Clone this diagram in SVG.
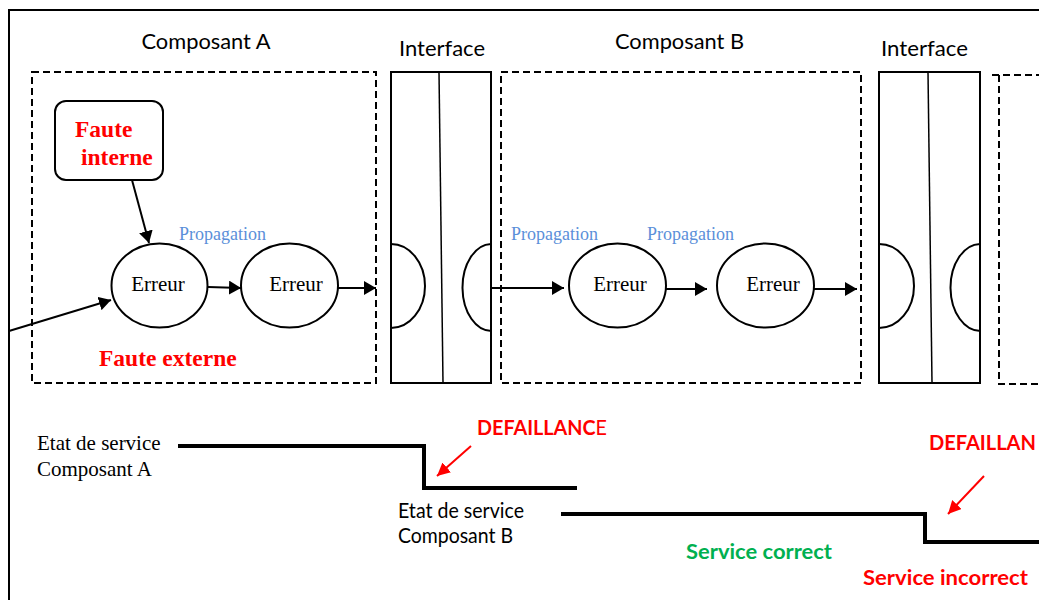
<svg xmlns="http://www.w3.org/2000/svg" width="1039" height="600" viewBox="0 0 1039 600">
  <defs>
    <marker id="arrow" markerUnits="userSpaceOnUse" markerWidth="13" markerHeight="14" refX="12" refY="7" orient="auto">
      <path d="M0,0 L12,7 L0,14 z" fill="#000"/>
    </marker>
    <marker id="arrow-red" markerUnits="userSpaceOnUse" markerWidth="14" markerHeight="13" refX="13" refY="6.5" orient="auto">
      <path d="M0,0 L13,6.5 L0,13 z" fill="#f00"/>
    </marker>
    <style>
      .frame { fill: none; stroke: #000; stroke-width: 2; }
      .dash { fill: none; stroke: #000; stroke-width: 2; stroke-dasharray: 7 4; }
      .solid { fill: none; stroke: #000; stroke-width: 2; }
      .thin { fill: none; stroke: #000; stroke-width: 1.5; }
      .node { fill: #fff; stroke: #000; stroke-width: 2; }
      .edge { fill: none; stroke: #000; stroke-width: 2; marker-end: url(#arrow); }
      .edge-red { fill: none; stroke: #f00; stroke-width: 2; marker-end: url(#arrow-red); }
      .state { fill: none; stroke: #000; stroke-width: 4; stroke-linejoin: miter; }
      .title { font-family: Lato, "Liberation Sans", sans-serif; font-size: 21px; fill: #000; }
      .serif { font-family: "Liberation Serif", serif; font-size: 21px; fill: #000; }
      .fault { font-family: "Liberation Serif", serif; font-size: 23.5px; font-weight: bold; fill: #f00; }
      .prop { font-family: "Liberation Serif", serif; font-size: 18px; fill: #5b8fd9; }
      .status { font-family: Lato, "Liberation Sans", sans-serif; font-size: 20.5px; font-weight: bold; }
    </style>
  </defs>

  <!-- outer frame -->
  <path class="frame" d="M9,600 L9,10 L1039,10"/>

  <!-- section titles -->
  <text class="title" x="206" y="49" text-anchor="middle" textLength="129" lengthAdjust="spacingAndGlyphs">Composant A</text>
  <text class="title" x="442" y="56" text-anchor="middle" textLength="86" lengthAdjust="spacingAndGlyphs">Interface</text>
  <text class="title" x="679.5" y="49" text-anchor="middle" textLength="129" lengthAdjust="spacingAndGlyphs">Composant B</text>
  <text class="title" x="924.5" y="56" text-anchor="middle" textLength="87" lengthAdjust="spacingAndGlyphs">Interface</text>

  <!-- component A boundary -->
  <g id="composant-a">
    <rect class="dash" x="32" y="72" width="344" height="311"/>
    <text class="fault" x="99" y="366">Faute externe</text>
  </g>

  <!-- first interface -->
  <g id="interface-1">
    <rect class="solid" x="391" y="72" width="100" height="311"/>
    <line class="thin" x1="439" y1="72" x2="443" y2="383"/>
    <path class="solid" d="M391,244 A34,42 0 0 1 391,328"/>
    <path class="solid" d="M491,244 A29,43.5 0 0 0 492,331"/>
  </g>

  <!-- component B boundary -->
  <g id="composant-b">
    <rect class="dash" x="501" y="72" width="360" height="311"/>
  </g>

  <!-- second interface -->
  <g id="interface-2">
    <rect class="solid" x="879" y="72" width="101" height="311"/>
    <line class="thin" x1="928" y1="72" x2="932" y2="383"/>
    <path class="solid" d="M879,244 A35,42 0 0 1 879,328"/>
    <path class="solid" d="M980,244 A30,43.5 0 0 0 981,331"/>
  </g>

  <!-- next component (partial) -->
  <g id="composant-c">
    <path class="dash" d="M992,75 L1039,75"/>
    <path class="dash" d="M999,75 L999,384 L1039,384"/>
  </g>

  <!-- internal fault -->
  <g id="faute-interne">
    <rect class="node" x="55" y="101" width="108" height="79" rx="11"/>
    <text class="fault" x="75" y="137">Faute</text>
    <text class="fault" x="81" y="165">interne</text>
  </g>

  <!-- error states -->
  <g id="erreur-1">
    <ellipse class="node" cx="159.5" cy="285.5" rx="48" ry="42"/>
    <text class="serif" x="158" y="291" text-anchor="middle">Erreur</text>
  </g>
  <g id="erreur-2">
    <ellipse class="node" cx="289.5" cy="285.5" rx="48.5" ry="42"/>
    <text class="serif" x="296" y="291" text-anchor="middle">Erreur</text>
  </g>
  <g id="erreur-3">
    <ellipse class="node" cx="617.5" cy="285.5" rx="48.5" ry="42"/>
    <text class="serif" x="620" y="291" text-anchor="middle">Erreur</text>
  </g>
  <g id="erreur-4">
    <ellipse class="node" cx="765.5" cy="285.5" rx="48.5" ry="42"/>
    <text class="serif" x="773" y="291" text-anchor="middle">Erreur</text>
  </g>

  <!-- propagation labels -->
  <text class="prop" x="179" y="240">Propagation</text>
  <text class="prop" x="511" y="240">Propagation</text>
  <text class="prop" x="647" y="240">Propagation</text>

  <!-- connectors -->
  <g id="connectors">
    <line class="edge" x1="132" y1="180" x2="149" y2="243"/>
    <line class="edge" x1="9" y1="331" x2="111" y2="300"/>
    <line class="edge" x1="208" y1="287" x2="241" y2="288"/>
    <line class="edge" x1="338" y1="288" x2="376" y2="288"/>
    <line class="edge" x1="491" y1="288" x2="564" y2="288"/>
    <line class="edge" x1="666" y1="289" x2="707" y2="289"/>
    <line class="edge" x1="814" y1="289" x2="857" y2="289"/>
    <line class="edge-red" x1="471" y1="446" x2="437" y2="476"/>
    <line class="edge-red" x1="984" y1="476" x2="948" y2="514"/>
  </g>

  <!-- service state timelines -->
  <g id="etat-a">
    <text class="serif" x="37" y="450">Etat de service</text>
    <text class="serif" x="37" y="476">Composant A</text>
    <path class="state" d="M178,446 L424,446 L424,488 L577,488"/>
  </g>
  <g id="etat-b">
    <text class="title" x="398" y="518" textLength="126" lengthAdjust="spacingAndGlyphs">Etat de service</text>
    <text class="title" x="398" y="543" textLength="115" lengthAdjust="spacingAndGlyphs">Composant B</text>
    <path class="state" d="M561,514 L925,514 L925,542 L1039,542"/>
  </g>

  <!-- status labels -->
  <text class="status" x="477" y="435" fill="#f00" textLength="130" lengthAdjust="spacingAndGlyphs">DEFAILLANC<tspan font-weight="normal">E</tspan></text>
  <text class="status" x="929" y="450" fill="#f00" textLength="107" lengthAdjust="spacingAndGlyphs">DEFAILLAN</text>
  <text class="status" x="686" y="559" fill="#00b050" textLength="146" lengthAdjust="spacingAndGlyphs">Service correct</text>
  <text class="status" x="863" y="585" fill="#f00" textLength="165" lengthAdjust="spacingAndGlyphs">Service incorrect</text>
</svg>
